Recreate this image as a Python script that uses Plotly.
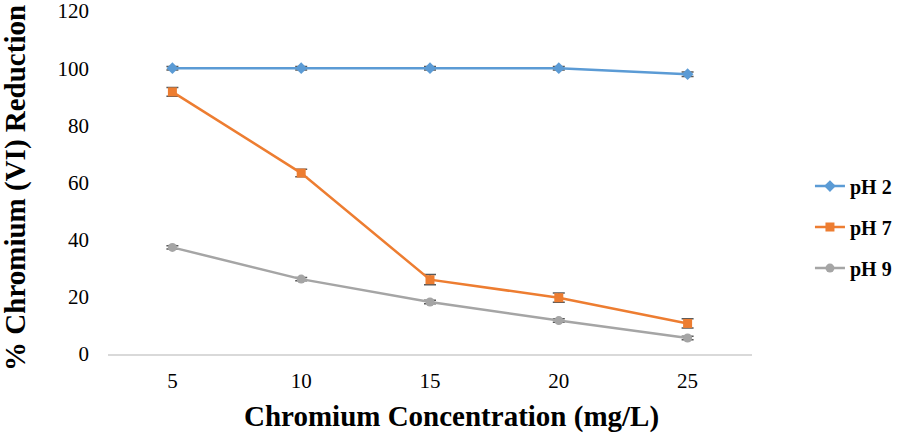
import plotly.graph_objects as go

categories = ["5", "10", "15", "20", "25"]
ph2 = [100, 100, 100, 100, 97.9]
ph7 = [91.7, 63.3, 26.0, 19.7, 10.7]
ph9 = [37.3, 26.2, 18.2, 11.7, 5.6]
err2 = [0.6, 0.6, 0.6, 0.6, 0.8]
err7 = [1.5, 1.3, 1.8, 1.6, 1.6]
err9 = [0.6, 0.6, 0.6, 0.6, 0.6]
yticks = [0, 20, 40, 60, 80, 100, 120]
x_title = "Chromium Concentration (mg/L)"
y_title = "% Chromium (VI) Reduction"

font = "Liberation Serif, Times New Roman, serif"
fig = go.Figure()
series = [
    ("pH 2", ph2, err2, "#5B9BD5", "diamond", 9),
    ("pH 7", ph7, err7, "#ED7D31", "square", 9),
    ("pH 9", ph9, err9, "#A5A5A5", "circle", 9),
]
for name, vals, errs, col, sym, sz in series:
    fig.add_trace(go.Scatter(
        x=categories, y=vals, name=name, mode="lines+markers", legendgroup=name,
        line=dict(color=col, width=2.5),
        marker=dict(symbol=sym, size=sz, color=col),
        error_y=dict(type="data", array=errs, visible=True, color="#595959", thickness=1.5, width=6),
    ))

fig.update_layout(
    width=904, height=436,
    margin=dict(l=108, r=152, t=11, b=82, autoexpand=False),
    paper_bgcolor="white", plot_bgcolor="white",
    font=dict(family=font, size=21, color="black"),
    showlegend=True,
    legend=dict(x=1.09, y=0.37, yanchor="middle", xanchor="left", traceorder="grouped",
                font=dict(family=font, size=20, color="black", weight="bold"),
                tracegroupgap=12, bgcolor="rgba(0,0,0,0)"),
    xaxis=dict(type="category", range=[-0.5, 4.5], showgrid=False, showline=True,
               linecolor="#D9D9D9", linewidth=1.5, ticks="", zeroline=False,
               ticklabelstandoff=7, automargin=False,
               tickfont=dict(family=font, size=21)),
    yaxis=dict(range=[0, 120], tickmode="array", tickvals=yticks, showgrid=False,
               showline=False, zeroline=False, automargin=False, ticklabeloverflow="allow",
               ticks="", ticklabelstandoff=18, tickfont=dict(family=font, size=21)),
    annotations=[
        dict(text=x_title, xref="paper", yref="paper", x=0.533, y=-0.182,
             xanchor="center", yanchor="middle", showarrow=False,
             font=dict(family=font, size=29, color="black", weight="bold")),
        dict(text=y_title, xref="paper", yref="paper", x=-0.1435, y=0.483,
             xanchor="center", yanchor="middle", showarrow=False, textangle=-90,
             font=dict(family=font, size=29, color="black", weight="bold")),
    ],
)
fig.write_html("out.html", config={"displayModeBar": False},
               post_script="document.body.style.margin='0';document.body.style.overflow='hidden';")
